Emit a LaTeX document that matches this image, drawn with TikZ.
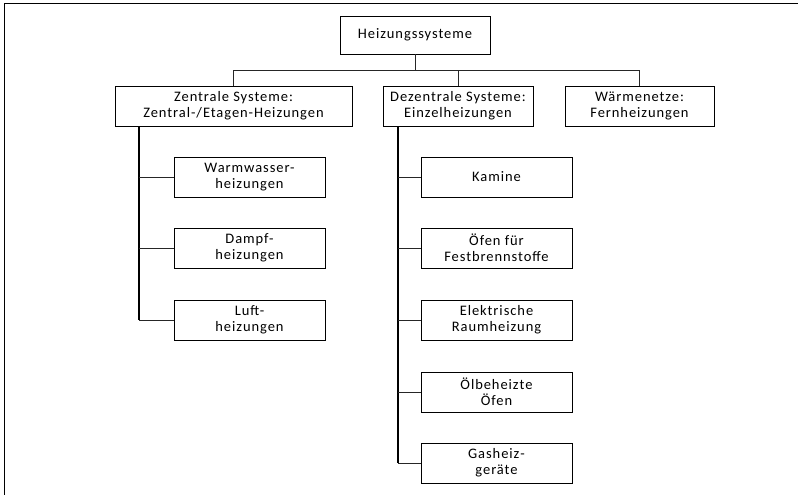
\documentclass[tikz,border=0pt]{standalone}
\usepackage{fontspec}
\setmainfont{Carlito}
\newfontfamily\boxfont{Carlito}[LetterSpace=6.5]
\begin{document}
\begin{tikzpicture}[x=1pt,y=-1pt,
  box/.style={draw=black,line width=0.8pt,fill=white,inner sep=0pt,align=center,
    font=\boxfont\fontsize{14.5}{16.4}\selectfont},
  link/.style={draw=black!85,line width=0.8pt},
  trunk/.style={draw=black,line width=1.5pt}]
\useasboundingbox (0,0) rectangle (798,495);
% frame edges
\draw[line width=1pt] (4.5,495) -- (4.5,3.5) -- (798,3.5);

% top level
\node[box,minimum width=150pt,minimum height=38pt] (root) at (415,35) {Heizungssysteme};
\node[box,minimum width=237pt,minimum height=40pt] (zen) at (233.5,106) {Zentrale Systeme:\\Zentral-/Etagen-Heizungen};
\node[box,minimum width=150pt,minimum height=40pt] (dez) at (458,106) {Dezentrale Systeme:\\Einzelheizungen};
\node[box,minimum width=149pt,minimum height=40pt] (waerm) at (639.5,106) {Wärmenetze:\\Fernheizungen};

\coordinate (bus) at (415,70.5);
\draw[link] (root.south) -- (bus);
\draw[link] (zen.north) |- (bus) -| (waerm.north);
\draw[link] (dez.north) -- (dez.north |- bus);

% central systems
\foreach \n/\y/\t in {ww/177/{Warmwasser-\\heizungen},da/248/{Dampf-\\heizungen},lu/320/{Luft-\\heizungen}}{
  \node[box,minimum width=151pt,minimum height=40pt] (\n) at (249.5,\y) {\t};
}
\coordinate (zt) at (139,126);
\draw[trunk] (zt) -- (zt |- lu.west);
\foreach \n in {ww,da,lu}{ \draw[link] (zt |- \n.west) -- (\n.west); }

% decentral systems
\foreach \n/\y/\t in {ka/177/{Kamine},of/248/{Öfen für\\Festbrennstoffe},el/320/{Elektrische\\Raumheizung},ol/392/{Ölbeheizte\\Öfen},ga/463/{Gasheiz-\\geräte}}{
  \node[box,minimum width=151pt,minimum height=40pt] (\n) at (496.5,\y) {\t};
}
\coordinate (dt) at (398,126);
\draw[trunk] (dt) -- (dt |- ga.west);
\foreach \n in {ka,of,el,ol,ga}{ \draw[link] (dt |- \n.west) -- (\n.west); }
\end{tikzpicture}
\end{document}
